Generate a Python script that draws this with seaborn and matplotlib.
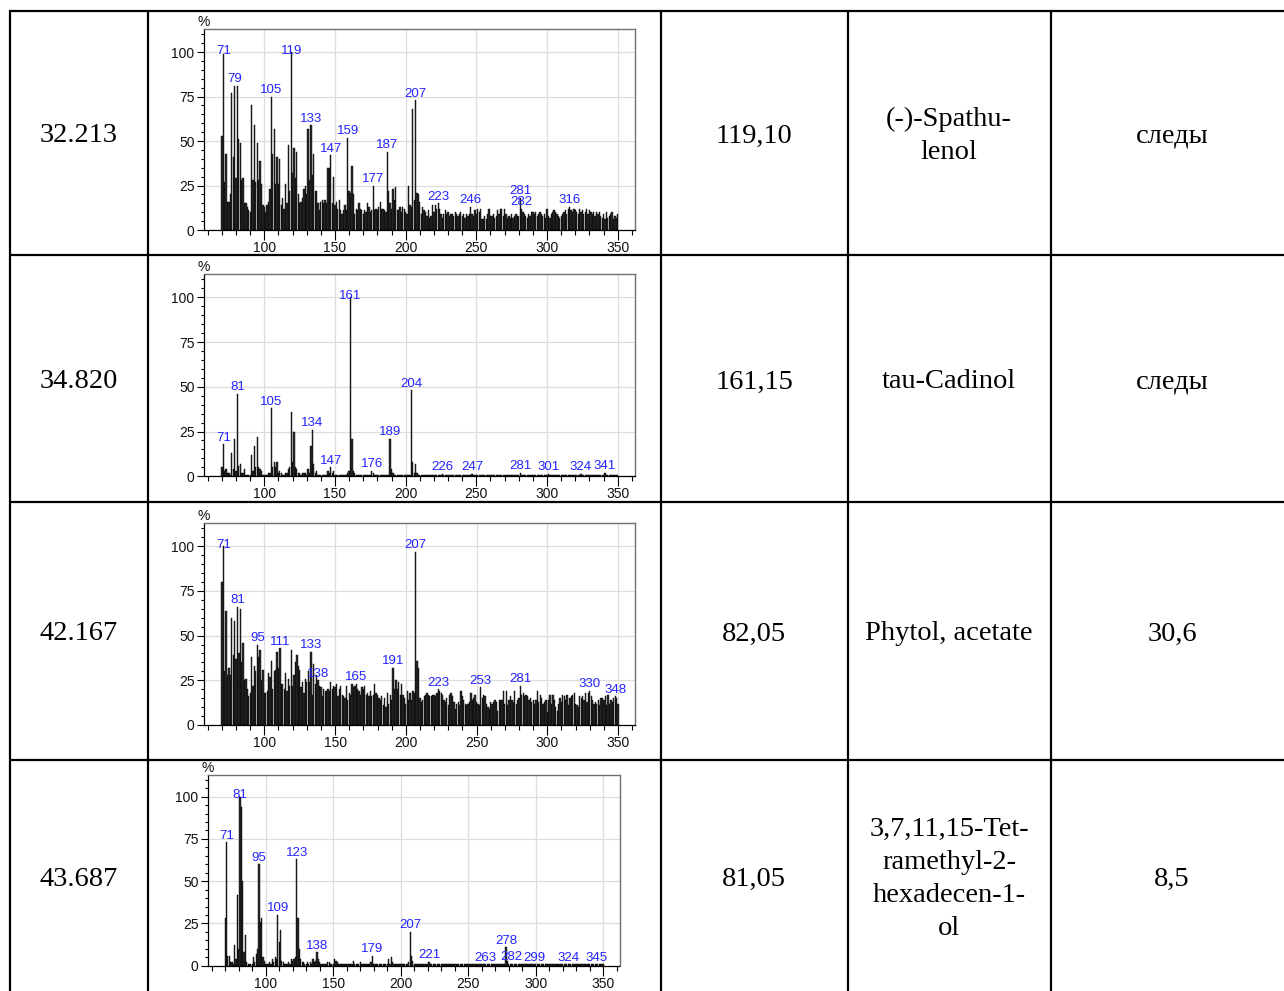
import matplotlib
matplotlib.use("Agg")
import matplotlib.pyplot as plt
from matplotlib.ticker import FixedLocator
import numpy as np
import seaborn as sns

# ---- mass spectra: relative intensity (%) for m/z 70 ... 350 ----
MZ_START = 70

spec_spathulenol = [
    53, 99, 27, 43, 16, 16, 20, 77, 41, 81,
    29, 81, 51, 49, 28, 29, 15, 15, 13, 11,
    10, 70, 28, 59, 27, 49, 28, 39, 26, 14,
    13, 10, 14, 16, 23, 75, 43, 57, 26, 41,
    26, 40, 14, 18, 12, 26, 15, 48, 22, 100,
    32, 46, 29, 44, 20, 15, 16, 18, 23, 25,
    20, 57, 28, 59, 31, 43, 22, 22, 15, 11,
    16, 17, 15, 17, 15, 35, 35, 42, 15, 30,
    14, 16, 12, 17, 11, 9, 11, 14, 11, 52,
    22, 21, 36, 20, 9, 12, 11, 15, 12, 11,
    9, 11, 10, 15, 13, 10, 11, 25, 11, 12,
    11, 13, 16, 12, 12, 11, 10, 44, 22, 15,
    12, 23, 17, 24, 11, 11, 13, 10, 13, 12,
    10, 9, 25, 14, 13, 68, 17, 73, 21, 20,
    16, 9, 13, 11, 10, 8, 11, 7, 8, 14,
    10, 14, 12, 15, 12, 9, 7, 9, 11, 9,
    10, 8, 9, 9, 8, 10, 9, 8, 9, 10,
    8, 9, 7, 9, 8, 9, 13, 9, 8, 11,
    9, 12, 10, 12, 6, 6, 8, 6, 9, 12,
    8, 8, 9, 7, 8, 11, 9, 12, 12, 8,
    12, 9, 7, 8, 7, 9, 7, 8, 9, 8,
    8, 18, 12, 10, 9, 8, 7, 9, 8, 10,
    10, 9, 10, 8, 9, 10, 9, 8, 9, 7,
    12, 8, 7, 9, 10, 11, 10, 9, 8, 7,
    8, 9, 10, 11, 9, 12, 13, 11, 10, 12,
    11, 10, 9, 12, 10, 11, 9, 10, 12, 9,
    11, 10, 9, 10, 8, 10, 9, 10, 8, 7,
    9, 6, 10, 7, 8, 9, 10, 6, 8, 7,
    9,
]

spec_cadinol = [
    5, 18, 3, 4, 2, 2, 1, 13, 4, 21,
    3, 46, 6, 7, 2, 2, 4, 1, 1, 1,
    1, 12, 3, 17, 5, 22, 5, 4, 3, 1,
    1, 1, 1, 2, 2, 38, 5, 8, 5, 8,
    2, 3, 2, 1, 1, 2, 2, 4, 5, 36,
    8, 25, 5, 4, 2, 2, 1, 2, 2, 2,
    1, 4, 2, 17, 26, 7, 2, 3, 1, 1,
    1, 1, 1, 1, 1, 3, 2, 5, 2, 3,
    1, 1, 1, 1, 1, 1, 1, 1, 1, 2,
    3, 100, 21, 3, 2, 1, 1, 1, 1, 1,
    1, 1, 1, 1, 1, 1, 3, 2, 1, 1,
    1, 1, 1, 1, 1, 1, 1, 1, 1, 21,
    4, 2, 1, 1, 1, 1, 1, 1, 1, 1,
    1, 1, 1, 1, 48, 8, 2, 7, 2, 1,
    1, 1, 1, 1, 1, 1, 1, 1, 1, 1,
    1, 1, 1, 1, 1, 1, 1.5, 1, 1, 1,
    1, 1, 1, 1, 1, 1, 1, 1, 1, 1,
    1, 1, 1, 1, 1, 1, 1, 1.5, 1, 1,
    1, 1, 1, 1, 1, 1, 1, 1, 1, 1,
    1, 1, 1, 1, 1, 1, 1, 1, 1, 1,
    1, 1, 1, 1, 1, 1, 1, 1, 1, 1,
    1, 2, 1, 1, 1, 1, 1, 1, 1, 1,
    1, 1, 1, 1, 1, 1, 1, 1, 1, 1,
    1, 1.5, 1, 1, 1, 1, 1, 1, 1, 1,
    1, 1, 1, 1, 1, 1, 1, 1, 1, 1,
    1, 1, 1, 1, 1.5, 1, 1, 1, 1, 1,
    1, 1, 1, 1, 1, 1, 1, 1, 1, 1,
    1, 2, 1, 1, 1, 1, 1, 1, 1, 1,
    1,
]

spec_phytol_acetate = [
    80, 100, 30, 64, 28, 32, 28, 60, 39, 58,
    37, 66, 40, 65, 35, 46, 25, 26, 20, 16,
    18, 38, 22, 33, 30, 45, 38, 42, 25, 31,
    18, 18, 19, 29, 27, 36, 20, 30, 31, 41,
    32, 43, 23, 23, 20, 29, 19, 26, 22, 42,
    22, 28, 35, 39, 33, 31, 21, 24, 18, 26,
    24, 30, 24, 41, 17, 34, 23, 28, 25, 22,
    21, 16, 20, 19, 19, 20, 19, 24, 20, 22,
    21, 23, 16, 20, 22, 17, 16, 15, 22, 14,
    18, 17, 23, 21, 22, 23, 20, 19, 17, 21,
    20, 22, 17, 18, 16, 19, 16, 17, 23, 18,
    17, 15, 14, 16, 11, 15, 10, 18, 12, 17,
    14, 32, 20, 25, 20, 24, 17, 23, 17, 15,
    12, 19, 14, 18, 14, 19, 18, 97, 36, 32,
    15, 13, 14, 16, 17, 18, 17, 16, 16, 17,
    17, 16, 18, 20, 19, 18, 17, 14, 13, 15,
    11, 17, 18, 16, 13, 9, 12, 13, 11, 19,
    16, 14, 12, 11, 12, 13, 18, 14, 15, 17,
    13, 12, 11, 21, 15, 17, 16, 12, 10, 9,
    13, 12, 13, 14, 13, 8, 14, 14, 14, 19,
    12, 19, 11, 14, 16, 14, 13, 19, 12, 14,
    15, 22, 17, 18, 16, 17, 16, 14, 15, 13,
    14, 12, 14, 19, 13, 17, 15, 12, 13, 14,
    7, 14, 17, 12, 17, 14, 10, 8, 12, 15,
    13, 17, 16, 14, 17, 11, 15, 16, 17, 18,
    12, 11, 10, 16, 15, 16, 14, 18, 13, 18,
    19, 16, 14, 12, 13, 12, 14, 11, 15, 15,
    14, 16, 11, 17, 12, 14, 13, 15, 16, 15,
    12,
]

spec_hexadecenol = [
    28, 73, 6, 6, 2, 2, 1, 12, 4, 42,
    10, 100, 94, 50, 8, 18, 2, 1, 1, 1,
    1, 5, 2, 7, 10, 60, 26, 28, 5, 3,
    1, 1, 1, 2, 1, 4, 2, 5, 4, 30,
    14, 21, 3, 2, 1, 1, 1, 2, 1, 4,
    3, 4, 5, 63, 28, 10, 4, 2, 2, 1,
    1, 2, 1, 2, 1, 4, 2, 3, 8, 4,
    2, 1, 1, 1, 1, 1, 2, 2, 1, 1,
    1, 4, 3, 2, 1, 1, 1, 1, 1, 1,
    1, 1, 1, 1, 1, 3, 1, 1, 1, 1,
    2, 1, 1, 1, 1, 1, 1, 1, 2, 6,
    1, 1, 1, 1, 1, 1, 1, 1, 1, 1,
    1, 4, 1, 5, 2, 1, 1, 1, 1, 1,
    1, 1, 1, 1, 1, 1, 2, 20, 6, 3,
    1, 1, 1, 1, 1, 1, 1, 1, 1, 1,
    1, 2.4, 1, 1, 1, 1, 1, 1, 1, 1,
    1, 1, 1, 1, 1, 1, 1, 1, 1, 1,
    1, 1, 1, 1, 1, 1, 1, 1, 1, 1,
    1, 1, 1, 1, 1, 1, 1, 1, 1, 1,
    1, 1, 1, 1, 1, 1, 1, 1, 1, 1,
    1, 1, 1, 1, 1, 1, 1, 1, 11, 3,
    1, 1, 1.2, 1, 1, 1, 1, 1, 1, 1,
    1, 1, 1, 1, 1, 1, 1, 1, 1, 1,
    1, 1, 1, 1, 1, 1, 1, 1, 1, 1,
    1, 1, 1, 1, 1, 1, 1, 1, 1, 1,
    1, 1, 1, 1, 1, 1, 1, 1, 1, 1,
    1, 1, 1, 1, 1, 1, 1, 1, 1, 1,
    1, 1, 1, 1, 1, 1, 1, 1, 1, 1,
    1,
]

# m/z values annotated above their peaks
peaks_spathulenol = [71, 79, 105, 119, 133, 147, 159, 177, 187, 207, 223, 246, 281, 282, 316]
peaks_cadinol = [71, 81, 105, 134, 147, 161, 176, 189, 204, 226, 247, 281, 301, 324, 341]
peaks_phytol_acetate = [71, 81, 95, 111, 133, 138, 165, 191, 207, 223, 253, 281, 330, 348]
peaks_hexadecenol = [71, 81, 95, 109, 123, 138, 179, 207, 221, 263, 278, 282, 299, 324, 345]

# ---- table cells ----
retention_times = ["32.213", "34.820", "42.167", "43.687"]
key_ions = ["119,10", "161,15", "82,05", "81,05"]
compound_names = ["(-)-Spathu-\nlenol", "tau-Cadinol", "Phytol, acetate",
                  "3,7,11,15-Tet-\nramethyl-2-\nhexadecen-1-\nol"]
contents = ["следы", "следы", "30,6", "8,5"]

spectra = [spec_spathulenol, spec_cadinol, spec_phytol_acetate, spec_hexadecenol]
peak_lists = [peaks_spathulenol, peaks_cadinol, peaks_phytol_acetate, peaks_hexadecenol]

# ---- layout (pixels) ----
W, H = 1284, 991
col_lines = [10, 148, 661, 848, 1051]
row_lines = [11, 255, 502, 760]
row_centers = [136, 382, 634, 879]
text_cols = [79, 754, 949, 1172]
# spectrum box per row: left, top, right, baseline
boxes = [
    (203.5, 29.0, 634.7, 230.0),
    (203.5, 274.0, 634.7, 476.3),
    (203.5, 523.0, 635.0, 725.0),
    (207.6, 774.7, 619.5, 965.7),
]
XLIM = (57, 362)
YLIM = (0, 113)

sns.set_theme(style="white")
plt.rcParams["font.family"] = ["Liberation Sans", "DejaVu Sans"]

fig = plt.figure(figsize=(W / 100, H / 100), dpi=100)
fig.patch.set_facecolor("white")

# table grid and text in a full-figure pixel axes
tab = fig.add_axes([0, 0, 1, 1], zorder=0)
tab.set_xlim(0, W)
tab.set_ylim(H, 0)
tab.axis("off")
for y in row_lines:
    tab.plot([col_lines[0] - 1, W + 5], [y, y], color="black", lw=1.6, solid_capstyle="butt")
for x in col_lines:
    tab.plot([x, x], [row_lines[0] - 1, H + 5], color="black", lw=1.6, solid_capstyle="butt")

serif = ["Liberation Serif", "DejaVu Serif"]
for i, yc in enumerate(row_centers):
    for xc, txt in zip(text_cols, [retention_times[i], key_ions[i], compound_names[i], contents[i]]):
        tab.text(xc, yc, txt, ha="center", va="center", fontsize=20.5,
                 family=serif, linespacing=1.42, color="black")

mz_all = np.arange(MZ_START, MZ_START + len(spec_spathulenol))

for (left, top, right, base), vals, peaks in zip(boxes, spectra, peak_lists):
    ax = fig.add_axes([left / W, 1 - base / H, (right - left) / W, (base - top) / H], zorder=2)
    sns.histplot(x=mz_all, weights=vals, discrete=True, shrink=0.9, ax=ax,
                 color="#2a2a2a", edgecolor="#000000", linewidth=0.3, alpha=1.0)
    ax.set_xlim(*XLIM)
    ax.set_ylim(*YLIM)
    ax.set_xlabel("")
    ax.set_ylabel("")
    ax.set_facecolor("white")

    ax.xaxis.set_major_locator(FixedLocator([100, 150, 200, 250, 300, 350]))
    ax.xaxis.set_minor_locator(FixedLocator(list(range(60, 361, 10))))
    ax.yaxis.set_major_locator(FixedLocator([0, 25, 50, 75, 100]))
    ax.yaxis.set_minor_locator(FixedLocator(list(range(0, 111, 5))))
    ax.grid(True, which="major", color="#dddddd", lw=0.9, zorder=0)
    ax.set_axisbelow(True)

    ax.tick_params(axis="both", which="both", direction="out", color="black",
                   labelsize=10, labelcolor="#111111", width=0.8)
    ax.tick_params(axis="x", which="major", length=7, pad=1)
    ax.tick_params(axis="x", which="minor", length=3.5)
    ax.tick_params(axis="y", which="major", length=5, pad=1.5)
    ax.tick_params(axis="y", which="minor", length=2.5)
    ax.tick_params(axis="both", which="both", bottom=True, left=True)

    for side in ("top", "right"):
        ax.spines[side].set_color("#707070")
        ax.spines[side].set_linewidth(1.0)
    for side in ("left", "bottom"):
        ax.spines[side].set_color("black")
        ax.spines[side].set_linewidth(0.9)
        ax.spines[side].set_visible(True)

    ax.text(0.0, 1.0, "%", transform=ax.transAxes, ha="center", va="bottom",
            fontsize=10, color="#111111")

    for mz in peaks:
        h = vals[mz - MZ_START]
        ax.text(mz, min(h, 97) + 0.3, str(mz), ha="center", va="bottom",
                fontsize=9.5, color="#2323ff", clip_on=False, zorder=5)

fig.savefig("out.png", dpi=100, facecolor="white")
